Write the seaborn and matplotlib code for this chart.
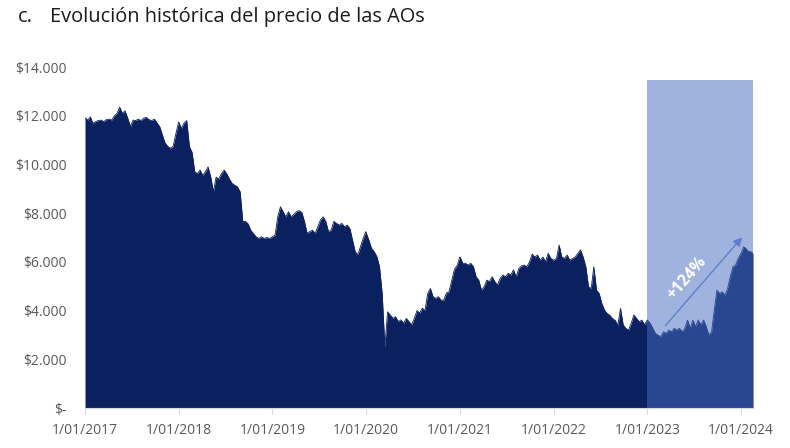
import numpy as np
import pandas as pd
import matplotlib
matplotlib.use('Agg')
import matplotlib.pyplot as plt
import matplotlib.dates as mdates
from matplotlib.ticker import FuncFormatter
import seaborn as sns

# ========== datos (miles de $) ==========
precio_2017 = [11.92, 11.82, 11.95, 11.69, 11.76, 11.80, 11.82, 11.76, 11.84, 11.86, 11.82, 12.00,
               12.10, 12.35, 12.10, 12.20, 11.90, 11.55, 11.82, 11.80, 11.86, 11.80, 11.90, 11.93,
               11.84, 11.80, 11.86, 11.70, 11.55, 11.20, 10.88, 10.74, 10.67, 10.74, 11.25, 11.70]
precio_2018 = [11.75, 11.48, 11.70, 11.80, 10.74, 10.50, 9.70, 9.62, 9.77, 9.55, 9.70, 9.90,
               9.48, 8.88, 9.48, 9.40, 9.62, 9.77, 9.62, 9.40, 9.22, 9.15, 9.08, 8.88,
               7.65, 7.66, 7.56, 7.30, 7.16, 7.03, 6.96, 7.03, 6.96, 7.00, 6.96, 7.03]
precio_2019 = [7.03, 7.10, 7.85, 8.26, 8.06, 7.85, 8.06, 7.85, 7.95, 8.06, 8.10, 8.03,
               7.66, 7.17, 7.24, 7.30, 7.17, 7.44, 7.72, 7.85, 7.66, 7.24, 7.30, 7.66,
               7.58, 7.51, 7.58, 7.44, 7.51, 7.37, 6.90, 6.42, 6.29, 6.63, 6.97, 7.24]
precio_2020 = [7.20, 6.90, 6.56, 6.42, 6.22, 5.80, 4.70, 2.50, 3.95, 3.82, 3.68, 3.75,
               3.55, 3.62, 3.48, 3.68, 3.55, 3.42, 3.68, 4.00, 3.90, 4.10, 4.00, 4.70,
               4.91, 4.57, 4.50, 4.57, 4.43, 4.43, 4.72, 4.78, 5.25, 5.70, 5.85, 6.20]
precio_2021 = [6.20, 5.94, 5.94, 5.87, 5.94, 5.80, 5.39, 5.25, 4.84, 4.98, 5.25, 5.19,
               5.39, 5.19, 5.05, 5.32, 5.46, 5.39, 5.53, 5.46, 5.67, 5.39, 5.73, 5.83,
               5.87, 5.80, 6.00, 6.32, 6.20, 6.28, 6.07, 6.20, 6.00, 6.35, 6.14, 6.07]
precio_2022 = [6.07, 6.14, 6.69, 6.20, 6.14, 6.28, 6.07, 6.14, 6.20, 6.35, 6.49, 6.20,
               5.80, 4.98, 4.91, 5.80, 4.84, 4.70, 4.29, 4.02, 3.88, 3.81, 3.67, 3.60,
               3.40, 4.09, 3.41, 3.27, 3.20, 3.48, 3.82, 3.68, 3.54, 3.61, 3.41, 3.61]
precio_2023 = [3.61, 3.48, 3.27, 3.06, 2.99, 2.93, 3.13, 3.06, 3.20, 3.13, 3.27, 3.20,
               3.27, 3.13, 3.27, 3.61, 3.27, 3.61, 3.34, 3.61, 3.41, 3.61, 3.34, 2.99,
               3.13, 4.02, 4.84, 4.70, 4.77, 4.63, 4.91, 5.39, 5.80, 5.87, 6.15, 6.35]
precio_2024 = [6.35, 6.62, 6.55, 6.42, 6.42, 6.35]

tramos = [('2017-01-01', '2017-12-31', precio_2017),
          ('2018-01-01', '2018-12-31', precio_2018),
          ('2019-01-01', '2019-12-31', precio_2019),
          ('2020-01-01', '2020-12-31', precio_2020),
          ('2021-01-01', '2021-12-31', precio_2021),
          ('2022-01-01', '2022-12-31', precio_2022),
          ('2023-01-01', '2023-12-31', precio_2023),
          ('2024-01-01', '2024-02-16', precio_2024)]

fechas, valores = [], []
for ini, fin, vals in tramos:
    fechas.extend(pd.date_range(ini, fin, periods=len(vals)))
    valores.extend(vals)
df = pd.DataFrame({'fecha': fechas, 'precio': np.array(valores) * 1000})

ticks_anios = pd.date_range('2017-01-01', '2024-01-01', freq='YS')
resaltado_ini = pd.Timestamp('2023-01-01')
resaltado_fin = pd.Timestamp('2024-02-16')
resaltado_top = 13450
flecha_desde = (pd.Timestamp('2023-03-05'), 3300)
flecha_hasta = (pd.Timestamp('2024-01-12'), 7100)
etiqueta_pos = (pd.Timestamp('2023-06-03'), 5340)

# ========== estilo ==========
sns.set_theme(style='white')
plt.rcParams['font.family'] = ['Open Sans', 'DejaVu Sans']

fig = plt.figure(figsize=(7.9, 4.48), dpi=100)
ax = fig.add_axes([85 / 790, 40 / 448, 668 / 790, 341 / 448])

navy = '#0b205e'
ax.fill_between(df['fecha'], 0, df['precio'], color=navy, lw=0, zorder=2)
sns.lineplot(data=df, x='fecha', y='precio', color=navy, lw=0.6, ax=ax, zorder=2)

# recuadro de 2023 en adelante
ax.fill_between([resaltado_ini, resaltado_fin], 0, resaltado_top,
                color='#466bc1', alpha=0.51, lw=0, zorder=3)

ax.annotate('', xy=(mdates.date2num(flecha_hasta[0]), flecha_hasta[1]),
            xytext=(mdates.date2num(flecha_desde[0]), flecha_desde[1]),
            arrowprops=dict(arrowstyle='-|>', color='#5f80c9', lw=1.0, mutation_scale=13),
            zorder=4)
ax.text(mdates.date2num(etiqueta_pos[0]), etiqueta_pos[1], '+124%', rotation=49,
        color='white', fontweight='bold', fontsize=11.5, ha='center', va='center',
        rotation_mode='anchor', zorder=5)

ax.set_xlim(pd.Timestamp('2017-01-01'), resaltado_fin)
ax.set_ylim(0, 14000)
ax.set_yticks(np.arange(0, 14001, 2000))
ax.set_xticks(ticks_anios)
ax.xaxis.set_major_formatter(FuncFormatter(
    lambda v, p: (lambda d: f"{d.day}/{d.month:02d}/{d.year}")(mdates.num2date(v))))
ax.yaxis.set_major_formatter(FuncFormatter(
    lambda v, p: '$-' if v == 0 else '$' + f"{int(v):,}".replace(',', '.')))
ax.set_xlabel('')
ax.set_ylabel('')

for s in ['top', 'right', 'left']:
    ax.spines[s].set_visible(False)
ax.spines['bottom'].set_color('#d9d9d9')
ax.spines['bottom'].set_linewidth(0.8)
ax.tick_params(axis='x', length=4, color='#d9d9d9', width=0.8, labelsize=10,
               labelcolor='#595959', pad=6.5, bottom=True)
ax.tick_params(axis='y', length=0, labelsize=10, labelcolor='#595959', pad=13.5)

fig.text(18 / 790, 1 - 22 / 448, 'c.', fontsize=14.4, color='#1a1a1a', va='baseline')
fig.text(50 / 790, 1 - 22 / 448, 'Evolución histórica del precio de las AOs',
         fontsize=14.4, color='#1a1a1a', va='baseline')

fig.savefig('out.png', dpi=100, facecolor='white')
